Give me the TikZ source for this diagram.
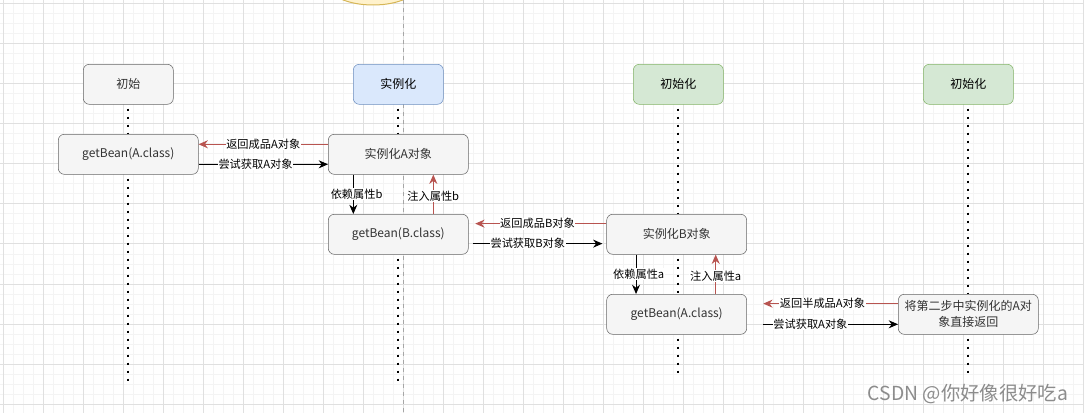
\documentclass[tikz,border=0pt]{standalone}
\usepackage{fontspec}
\setmainfont{Noto Sans CJK SC}
\usepackage{xcolor}
\usetikzlibrary{arrows.meta}

\definecolor{boxfill}{HTML}{F5F5F5}
\definecolor{boxline}{HTML}{666666}
\definecolor{boxtext}{HTML}{333333}
\definecolor{bluefill}{HTML}{DAE8FC}
\definecolor{blueline}{HTML}{6C8EBF}
\definecolor{greenfill}{HTML}{D5E8D4}
\definecolor{greenline}{HTML}{82B366}
\definecolor{redline}{HTML}{B85450}
\definecolor{yellowfill}{HTML}{FFF2CC}
\definecolor{yellowline}{HTML}{D6B656}
\definecolor{gridmajor}{HTML}{E0E0E0}
\definecolor{gridminor}{HTML}{F4F4F4}

\begin{document}
\begin{tikzpicture}[x=0.75pt, y=-0.75pt,
  box/.style={draw=boxline, fill=boxfill, text=boxtext, rounded corners=4.5pt,
    minimum width=105pt, minimum height=30pt, inner sep=0pt,
    font=\fontsize{9}{12}\selectfont},
  state/.style={box, minimum width=67.5pt},
  lifeline/.style={line width=1.5pt, dash pattern=on 1.5pt off 4.5pt, shorten <=3pt},
  call/.style={-{Stealth[length=7pt,width=6pt]}, black, line width=0.75pt},
  reply/.style={call, draw=redline, -{Stealth[length=7pt,width=6pt,fill=redline]}},
  lbl/.style={fill=white, inner sep=0.5pt, text=black, font=\fontsize{8.4}{10}\selectfont}]

\clip (0,0) rectangle (1084,413);
\fill[white] (0,0) rectangle (1084,413);

% --- background grid ---
\foreach \gx in {3,13,...,1083} \draw[gridminor, line width=0.75pt] (\gx,0) -- (\gx,413);
\foreach \gy in {4,14,...,413} \draw[gridminor, line width=0.75pt] (0,\gy) -- (1084,\gy);
\foreach \gx in {3,43,...,1083} \draw[gridmajor, line width=0.75pt] (\gx,0) -- (\gx,413);
\foreach \gy in {4,44,...,413} \draw[gridmajor, line width=0.75pt] (0,\gy) -- (1084,\gy);

% cut-off ellipse and guide line at the top
\draw[yellowline, fill=yellowfill, line width=0.75pt] (373,-15) ellipse (45 and 20);
\draw[gray!70, dashed, line width=0.6pt] (403,0) -- (403,413);

% --- heads ---
\node[state] (init) at (128.3,84.3) {初始};
\node[state, fill=bluefill, draw=blueline, text=black] (inst) at (398.3,84.3) {实例化};
\node[state, fill=greenfill, draw=greenline, text=black] (initB) at (678.3,84.3) {初始化};
\node[state, fill=greenfill, draw=greenline, text=black] (initC) at (968.3,84.3) {初始化};

% --- steps ---
\node[box] (getA) at (128.3,154.3) {getBean(A.class)};
\node[box] (newA) at (398.3,154.3) {实例化A对象};
\node[box] (getB) at (398.3,234.3) {getBean(B.class)};
\node[box] (newB) at (676.7,234.3) {实例化B对象};
\node[box] (getA2) at (676.7,314.3) {getBean(A.class)};
\node[box, align=center] (retA) at (968.3,314.3) {将第二步中实例化的A对\\象直接返回};

% --- lifelines ---
\coordinate (endA) at (128.3,384);
\coordinate (endB) at (398.3,384);
\coordinate (endC) at (678.3,374);
\coordinate (endD) at (968.3,374);
\draw[lifeline] (init.south) -- (getA.north);
\draw[lifeline] (getA.south) -- (endA);
\draw[lifeline] (inst.south) -- (newA.north);
\draw[lifeline] (getB.south) -- (endB);
\draw[lifeline] (initB.south) -- (initB.south |- newB.north);
\draw[lifeline] (endC |- newB.south) -- (endC |- getA2.north);
\draw[lifeline] (endC |- getA2.south) -- (endC);
\draw[lifeline] (initC.south) -- (retA.north);
\draw[lifeline] (retA.south) -- (endD);

% --- messages ---
\draw[reply] ([yshift=7.5pt]newA.west) -- node[lbl]{返回成品A对象} ([yshift=7.5pt]getA.east);
\draw[call] ([yshift=-7.5pt]getA.east) -- node[lbl, pos=0.44]{尝试获取A对象} ([yshift=-7.5pt]newA.west);
\draw[call] ([xshift=-33.75pt]newA.south) -- node[lbl, xshift=2.5pt]{依赖属性b} ([xshift=-33.75pt]getB.north);
\draw[reply] ([xshift=26.25pt]getB.north) -- node[lbl, pos=0.45]{注入属性b} ([xshift=26.25pt]newA.south);

\draw[reply, shorten >=5pt] ([yshift=8pt]newB.west) -- node[lbl]{返回成品B对象} ([yshift=8pt]getB.east);
\draw[call, shorten <=3.3pt, shorten >=3pt] ([yshift=-7pt]getB.east) -- node[lbl, pos=0.43]{尝试获取B对象} ([yshift=-7pt]newB.west);
\draw[call] ([xshift=-30.5pt]newB.south) -- node[lbl, xshift=2pt]{依赖属性a} ([xshift=-30.5pt]getA2.north);
\draw[reply] ([xshift=29.25pt]getA2.north) -- node[lbl, pos=0.45]{注入属性a} ([xshift=29.25pt]newB.south);

\draw[reply, shorten >=12.2pt] ([yshift=8pt]retA.west) -- node[lbl]{返回半成品A对象} ([yshift=8pt]getA2.east);
\draw[call, shorten <=12.2pt] ([yshift=-7.5pt]getA2.east) -- node[lbl, pos=0.42]{尝试获取A对象} ([yshift=-7.5pt]retA.west);

% watermark
\node[text=gray!90, font=\fontsize{14.5}{16}\selectfont] (mark) at (968,394) {CSDN @你好像很好吃a};
\end{tikzpicture}
\end{document}
